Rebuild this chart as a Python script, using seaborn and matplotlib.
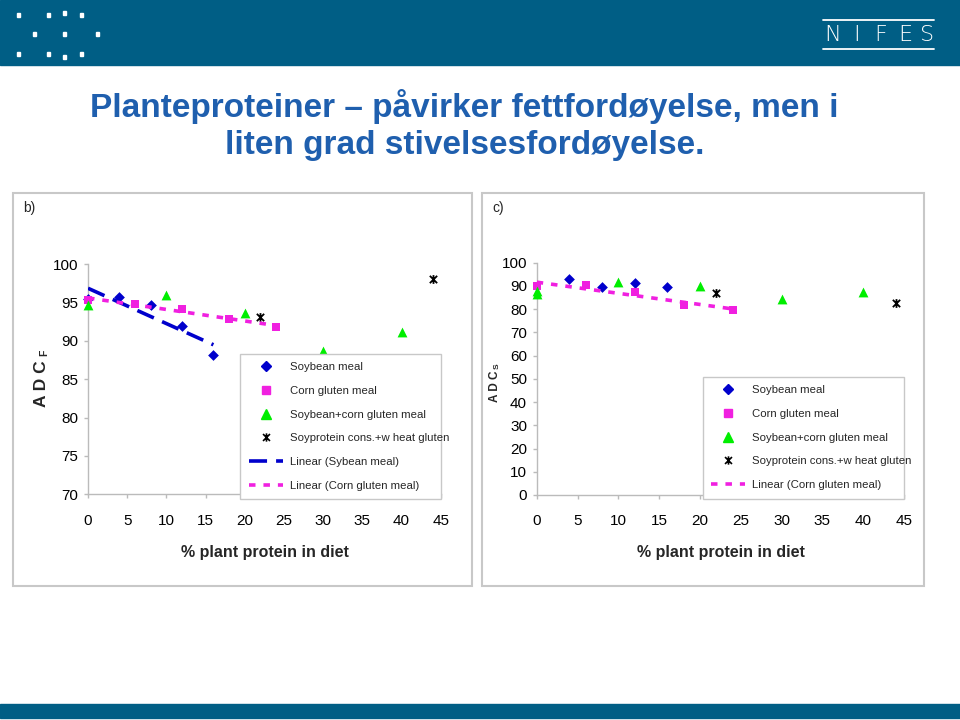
import seaborn as sns
import matplotlib.pyplot as plt
from matplotlib.patches import Rectangle
from matplotlib.lines import Line2D
from matplotlib.path import Path

# b) ADC fat vs % plant protein
soy_x = [0, 4, 8, 12, 16]
soy_fat = [95.4, 95.7, 94.7, 91.9, 88.1]
corn_x = [0, 6, 12, 18, 24]
corn_fat = [95.3, 94.8, 94.2, 92.8, 91.8]
mix_x = [0, 10, 20, 30, 40]
mix_fat = [94.7, 95.9, 93.6, 88.7, 91.2]
spc_x = [22, 44]
spc_fat = [93.1, 98.0]

# c) ADC starch vs % plant protein
soy_x_c = [4, 8, 12, 16]
soy_starch = [92.9, 89.5, 91.3, 89.5]
corn_starch = [90.0, 90.2, 87.5, 81.8, 79.8]
mix_x_c = [0, 0, 10, 20, 30, 40]
mix_starch = [88.0, 86.5, 91.9, 90.1, 84.5, 87.3]
spc_starch = [86.9, 82.5]

xticks = list(range(0, 50, 5))

BLUE = '#0000CC'
PINK = '#F020E0'
GREEN = '#00EE00'
BAND = '#005E85'
TITLE = '#1F5FAE'
GREY = '#BBBBBB'
# excel style star: an x with a vertical bar
ASTER = Path([(-1, -1), (1, 1), (-1, 1), (1, -1), (0, -1.2), (0, 1.2)],
             [Path.MOVETO, Path.LINETO, Path.MOVETO, Path.LINETO, Path.MOVETO, Path.LINETO])

sns.set_theme(style='white')
plt.rcParams['font.family'] = ['Liberation Sans', 'DejaVu Sans']

fig = plt.figure(figsize=(9.6, 7.2), dpi=100)
fig.patch.set_facecolor('white')

# header / footer bands
fig.add_artist(Rectangle((0, 1 - 65 / 720), 1, 65 / 720, transform=fig.transFigure,
                         color=BAND, zorder=0))
fig.add_artist(Rectangle((0, 1 - 718 / 720), 1, 14 / 720, transform=fig.transFigure,
                         color=BAND, zorder=0))
dots = [(18, 15), (48, 15), (64, 13), (81, 15), (34, 34), (64, 34), (97, 34),
        (18, 54), (48, 54), (64, 57), (81, 54)]
for dx, dy in dots:
    fig.add_artist(Rectangle(((dx - 1.5) / 960, 1 - (dy + 2) / 720), 3 / 960, 4 / 720,
                             transform=fig.transFigure, color='white'))
for ch, cx in zip('NIFES', [833, 857, 881, 905, 927]):
    fig.text(cx / 960, 1 - 35 / 720, ch, color='white', fontsize=16, ha='center',
             va='center', family='DejaVu Sans', fontweight='light')
for ly in (20, 49):
    fig.add_artist(Line2D([823 / 960, 934 / 960], [1 - ly / 720] * 2,
                          transform=fig.transFigure, color='white', lw=1.3))

fig.text(0.484, 1 - 125 / 720,
         'Planteproteiner – påvirker fettfordøyelse, men i\nliten grad stivelsesfordøyelse.',
         color=TITLE, fontsize=24, fontweight='bold', ha='center', va='center',
         multialignment='center', linespacing=1.24)

# panel frames
for x0, x1 in ((13, 472), (482, 924)):
    fig.add_artist(Rectangle((x0 / 960, 1 - 586 / 720), (x1 - x0) / 960, 393 / 720,
                             transform=fig.transFigure, fill=False, ec='#C8C8C8', lw=1.5))
fig.text(23 / 960, 1 - 208 / 720, 'b)', fontsize=10, va='center')
fig.text(492 / 960, 1 - 208 / 720, 'c)', fontsize=10, va='center')

ax1 = fig.add_axes([88 / 960, 1 - 494.3 / 720, 352.7 / 960, 230.3 / 720])
ax2 = fig.add_axes([536.7 / 960, 1 - 495 / 720, 367.3 / 960, 232.3 / 720])


def scatter(ax, x, y, marker, color, s, lw=0):
    sns.scatterplot(x=x, y=y, marker=marker, color=color, s=s, ax=ax, linewidth=lw,
                    edgecolor=color, clip_on=False, zorder=3)


def trend(ax, x, y, color, dashes):
    sns.regplot(x=x, y=y, scatter=False, ci=None, ax=ax, truncate=True,
                line_kws=dict(color=color, lw=2.6, dashes=dashes, zorder=4))


# b)
scatter(ax1, soy_x, soy_fat, 'D', BLUE, 30)
scatter(ax1, corn_x, corn_fat, 's', PINK, 32)
scatter(ax1, mix_x, mix_fat, '^', GREEN, 50)
scatter(ax1, spc_x, spc_fat, ASTER, 'black', 40, lw=1.3)
trend(ax1, soy_x, soy_fat, BLUE, (5, 2.5))
trend(ax1, corn_x, corn_fat, PINK, (1.8, 2.2))
ax1.set_ylim(70, 100)
ax1.set_yticks(range(70, 101, 5))

# c)
scatter(ax2, soy_x_c, soy_starch, 'D', BLUE, 30)
scatter(ax2, corn_x, corn_starch, 's', PINK, 32)
scatter(ax2, mix_x_c, mix_starch, '^', GREEN, 50)
scatter(ax2, spc_x, spc_starch, ASTER, 'black', 40, lw=1.3)
trend(ax2, corn_x, corn_starch, PINK, (1.8, 2.2))
ax2.set_ylim(0, 100)
ax2.set_yticks(range(0, 101, 10))

for ax in (ax1, ax2):
    ax.set_xlim(0, 45)
    ax.set_xticks(xticks)
    ax.set_facecolor('white')
    for side in ('top', 'right'):
        ax.spines[side].set_visible(False)
    for side in ('left', 'bottom'):
        ax.spines[side].set_color(GREY)
        ax.spines[side].set_linewidth(1)
    ax.tick_params(axis='both', which='major', length=3, width=1, color=GREY,
                   labelsize=11, labelcolor='black', bottom=True, left=True)
    ax.tick_params(axis='x', pad=11)
    ax.tick_params(axis='y', pad=4)
    ax.set_xlabel('')
    ax.set_ylabel('')

fig.text(265 / 960, 1 - 553 / 720, '% plant protein in diet', fontsize=11.5,
         fontweight='bold', ha='center', va='center')
fig.text(721 / 960, 1 - 553 / 720, '% plant protein in diet', fontsize=11.5,
         fontweight='bold', ha='center', va='center')

# y labels: ADC with subscript
fig.text(41 / 960, 1 - 384 / 720, 'A D C', rotation=90, fontsize=12.5,
         fontweight='bold', ha='center', va='center')
fig.text(44 / 960, 1 - 353 / 720, 'F', rotation=90, fontsize=7.5,
         fontweight='bold', ha='center', va='center')
fig.text(495 / 960, 1 - 386 / 720, 'A D C', rotation=90, fontsize=8.5,
         fontweight='bold', ha='center', va='center')
fig.text(497 / 960, 1 - 366 / 720, 'S', rotation=90, fontsize=6,
         fontweight='bold', ha='center', va='center')


def handles(with_soy_line):
    h = [
        Line2D([], [], ls='none', marker='D', color=BLUE, markersize=5.5, label='Soybean meal'),
        Line2D([], [], ls='none', marker='s', color=PINK, markersize=5.5, label='Corn gluten meal'),
        Line2D([], [], ls='none', marker='^', color=GREEN, markersize=7, label='Soybean+corn gluten meal'),
        Line2D([], [], ls='none', marker=ASTER, color='black', markersize=6, mew=1.2,
               label='Soyprotein cons.+w heat gluten'),
    ]
    if with_soy_line:
        h.append(Line2D([], [], color=BLUE, lw=2.6, dashes=(5, 2.5), label='Linear (Sybean meal)'))
    h.append(Line2D([], [], color=PINK, lw=2.6, dashes=(1.8, 2.2), label='Linear (Corn gluten meal)'))
    return h


for ax, soyline, box in ((ax1, True, (0.431, -0.025, 0.569, 0.635)),
                         (ax2, False, (0.452, -0.007, 0.548, 0.516))):
    leg = ax.legend(handles=handles(soyline), loc='upper left', bbox_to_anchor=box,
                    mode='expand', fontsize=8.2, frameon=True, fancybox=False,
                    framealpha=1, edgecolor='#C8C8C8', borderpad=0.75,
                    labelspacing=1.2, handlelength=3.0, handletextpad=0.6,
                    borderaxespad=0)
    leg.get_frame().set_linewidth(1)
    leg.set_zorder(5)

fig.savefig('out.png', dpi=100, facecolor='white')
